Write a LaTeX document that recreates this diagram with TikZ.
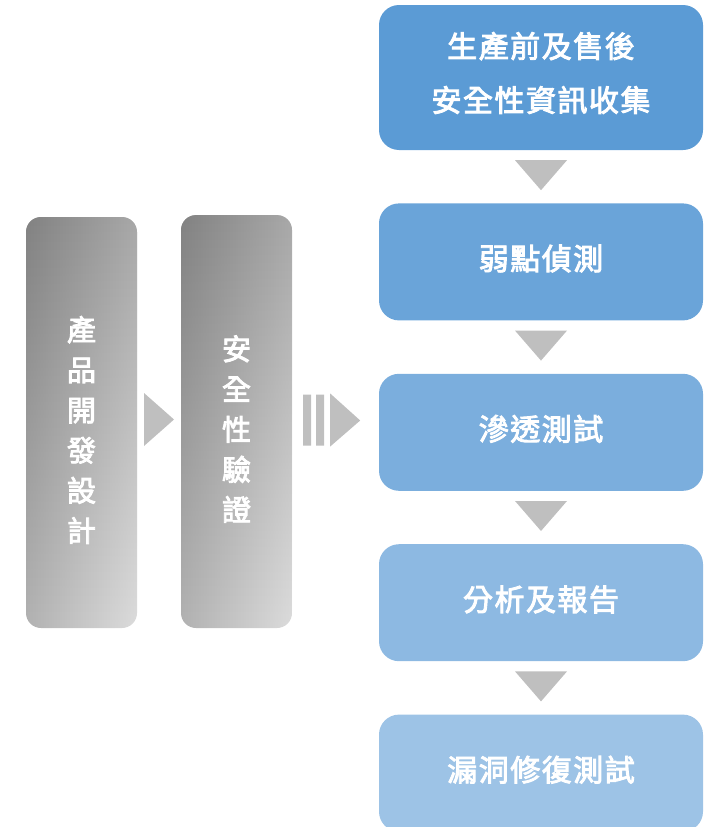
\documentclass[tikz,border=0pt]{standalone}
\usepackage{fontspec}
\setmainfont{Noto Sans CJK TC}
\newfontfamily\stepfont{Noto Sans CJK TC}[FakeBold=3, LetterSpace=5]
\newfontfamily\phasefont{Noto Sans CJK TC}[FakeBold=3]
\usetikzlibrary{calc,positioning,fadings}

\definecolor{blueA}{HTML}{5B9BD5}
\definecolor{blueB}{HTML}{6AA4D9}
\definecolor{blueC}{HTML}{7BAEDD}
\definecolor{blueD}{HTML}{8DB9E2}
\definecolor{blueE}{HTML}{9DC3E6}
\definecolor{grayTL}{HTML}{828282}
\definecolor{grayTR}{HTML}{A8A8A8}
\definecolor{grayBL}{HTML}{B2B2B2}
\definecolor{grayBR}{HTML}{DCDCDC}
\definecolor{arrowgray}{HTML}{BFBFBF}

\tikzfading[name=fade down, top color=transparent!0, bottom color=transparent!100]

\begin{document}
\begin{tikzpicture}[x=1pt,y=-1pt,
  bluebox/.style={rounded corners=20pt, minimum width=324pt, minimum height=117pt,
    inner sep=0pt, align=center, text=white,
    font=\stepfont\fontsize{30}{54}\selectfont},
  oneline/.style={text height=20pt, text depth=4pt},
  steptext/.style={inner sep=0pt, align=center, text=white,
    font=\stepfont\fontsize{30}{54}\selectfont},
  graybox/.style={rounded corners=15pt, minimum width=111pt, minimum height=411pt,
    inner sep=0pt, left color=grayBL, right color=grayBR,
    postaction={path fading=fade down, left color=grayTL, right color=grayTR}},
  phasetext/.style={inner sep=0pt, align=center, text=white,
    font=\phasefont\fontsize{29}{40.2}\selectfont}]

\path[use as bounding box, clip] (0,0) rectangle (706,827);

% left column
\node[graybox] (design) at (81.5,422.5) {};
\node[graybox, minimum height=413pt] (verify) at (236.5,421.5) {};
\node[phasetext] (design-text) at ($(design.center)+(0,7.5)$) {產\\品\\開\\發\\設\\計};
\node[phasetext] (verify-text) at ($(verify.center)+(0,7.5)$) {安\\全\\性\\驗\\證};

% right column
\node[bluebox, fill=blueA, minimum height=145pt] (info) at (541,77.5) {};
\node[steptext] (info-text) at ($(info.center)+(0,-4.5)$) {生產前及售後\\安全性資訊收集};
\node[bluebox, oneline, fill=blueB, below=53pt of info] (scan) {弱點偵測};
\node[bluebox, oneline, fill=blueC, below=53pt of scan] (pentest) {滲透測試};
\node[bluebox, oneline, fill=blueD, below=53pt of pentest] (report) {分析及報告};
\node[bluebox, oneline, fill=blueE, below=53pt of report] (retest) {漏洞修復測試};

% arrows
\coordinate (mid) at ($(design.east)!.5!(verify.west)$);
\fill[arrowgray] ($(mid)+(-15,-29)$) -- ($(mid)+(15,-2.5)$) -- ($(mid)+(-15,24)$) -- cycle;

\coordinate (gap) at ($(verify.east)+(0,-1)$);
\fill[arrowgray] ($(gap)+(11,-26)$) rectangle ($(gap)+(19,25)$)
  ($(gap)+(24,-26)$) rectangle ($(gap)+(32,25)$)
  ($(gap)+(38,-27)$) -- ($(gap)+(68,0)$) -- ($(gap)+(38,26)$) -- cycle;

\foreach \a/\b in {info/scan, scan/pentest, pentest/report, report/retest} {
        % triangle in the gap between two steps
        \fill[arrowgray] ($(\a.south)!.5!(\b.north)+(-26,-16.5)$) -- ++(52,0)
          -- ($(\a.south)!.5!(\b.north)+(0,13.5)$) -- cycle;
    }

\end{tikzpicture}
\end{document}
